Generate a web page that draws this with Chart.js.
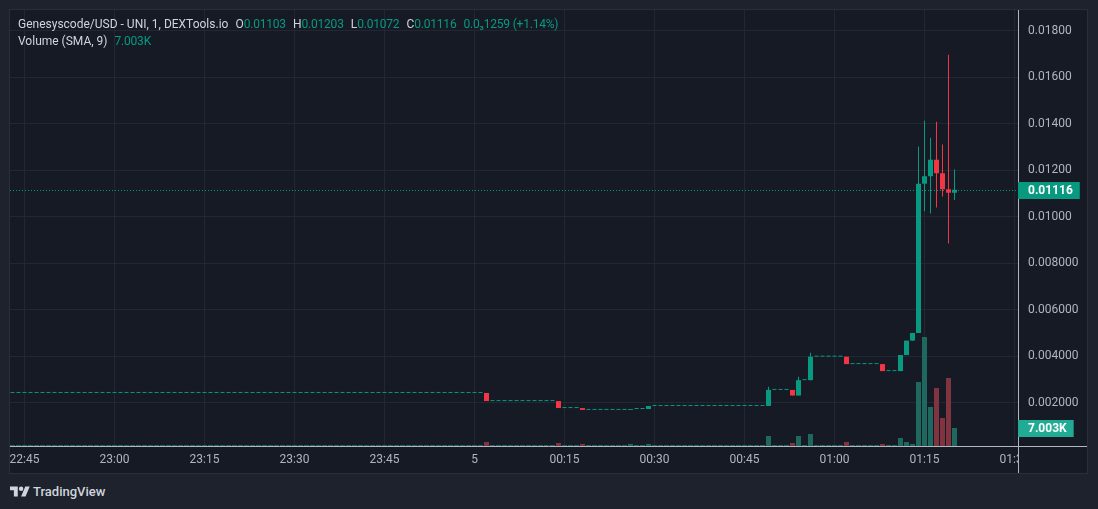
<!DOCTYPE html>
<html><head><meta charset="utf-8">
<script src="https://cdn.jsdelivr.net/npm/chart.js@4.4.1/dist/chart.umd.min.js"></script>
<style>
html,body{margin:0;padding:0;background:#1e222d;width:1098px;height:509px;overflow:hidden;font-family:Roboto,"Liberation Sans",sans-serif;}
#panel{position:absolute;left:9px;top:9px;width:1079px;height:465px;box-sizing:border-box;border:1px solid #2a2e39;background:#161a25;}
#c{position:absolute;left:0;top:0;}
#legend{position:absolute;left:8px;top:6px;font-size:12px;line-height:17px;color:#d1d4dc;white-space:nowrap;}
#legend .k{color:#d1d4dc;}
#legend .v{color:#089981;letter-spacing:-0.2px;}
#legend .g{margin-left:7px;}
#brand{position:absolute;left:10px;top:483px;height:17px;display:flex;align-items:center;color:#d1d4dc;font-size:13px;font-weight:500;}
#brand svg{margin-right:3px;}
</style>
</head><body>
<div id="panel">
  <canvas id="c" width="1077" height="463"></canvas>
  <div id="legend">
    <div><span class="k">Genesyscode/USD - UNI, 1, DEXTools.io</span><span class="g k">O</span><span class="v" id="vO"></span><span class="g k">H</span><span class="v" id="vH"></span><span class="g k">L</span><span class="v" id="vL"></span><span class="g k">C</span><span class="v" id="vC"></span><span class="g v">0.0₃1259 (+1.14%)</span></div>
    <div><span class="k">Volume (SMA, 9)</span><span class="g v" id="vV"></span></div>
  </div>
</div>
<div id="brand"><svg width="20" height="16" viewBox="0 0 36 28"><path fill="#d1d4dc" d="M14 22H7V11H0V4h14v18zM28 22h-8l7.5-18h8L28 22z"/><circle fill="#d1d4dc" cx="20" cy="8" r="4"/></svg><span>TradingView</span></div>
<script>
// ---- data ----
const times = [
 "22:43","22:44","22:45","22:46","22:47","22:48","22:49","22:50","22:51","22:52","22:53","22:54","22:55","22:56","22:57","22:58","22:59",
 "23:00","23:01","23:02","23:03","23:04","23:05","23:06","23:07","23:08","23:09","23:10","23:11","23:12","23:13","23:14",
 "23:15","23:16","23:17","23:18","23:19","23:20","23:21","23:22","23:23","23:24","23:25","23:26","23:27","23:28","23:29",
 "23:30","23:31","23:32","23:33","23:34","23:35","23:36","23:37","23:38","23:39","23:40","23:41","23:42","23:43","23:44",
 "23:45","23:46","23:47","23:48","23:49","23:50","23:51","23:52","23:53","23:54","23:55","23:56","23:57","23:58","23:59",
 "00:00","00:01","00:02","00:03","00:04","00:05","00:06","00:07","00:08","00:09","00:10","00:11","00:12","00:13","00:14",
 "00:15","00:16","00:17","00:18","00:19","00:20","00:21","00:22","00:23","00:24","00:25","00:26","00:27","00:28","00:29",
 "00:30","00:31","00:32","00:33","00:34","00:35","00:36","00:37","00:38","00:39","00:40","00:41","00:42","00:43","00:44",
 "00:45","00:46","00:47","00:48","00:49","00:50","00:51","00:52","00:53","00:54","00:55","00:56","00:57","00:58","00:59",
 "01:00","01:01","01:02","01:03","01:04","01:05","01:06","01:07","01:08","01:09","01:10","01:11","01:12","01:13","01:14",
 "01:15","01:16","01:17","01:18","01:19","01:20"
];
const opens = [
 // 22:43 - 00:01
 0.00242,0.00242,0.00242,0.00242,0.00242,0.00242,0.00242,0.00242,0.00242,0.00242,
 0.00242,0.00242,0.00242,0.00242,0.00242,0.00242,0.00242,0.00242,0.00242,0.00242,
 0.00242,0.00242,0.00242,0.00242,0.00242,0.00242,0.00242,0.00242,0.00242,0.00242,
 0.00242,0.00242,0.00242,0.00242,0.00242,0.00242,0.00242,0.00242,0.00242,0.00242,
 0.00242,0.00242,0.00242,0.00242,0.00242,0.00242,0.00242,0.00242,0.00242,0.00242,
 0.00242,0.00242,0.00242,0.00242,0.00242,0.00242,0.00242,0.00242,0.00242,0.00242,
 0.00242,0.00242,0.00242,0.00242,0.00242,0.00242,0.00242,0.00242,0.00242,0.00242,
 0.00242,0.00242,0.00242,0.00242,0.00242,0.00242,0.00242,0.00242,0.00242,
 // 00:02 - 00:13
 0.00242,0.00207,0.00207,0.00207,0.00207,0.00207,0.00207,0.00207,0.00207,0.00207,0.00207,0.00207,
 // 00:14 - 00:17
 0.00207,0.00177,0.00177,0.00177,
 // 00:18 - 00:25
 0.00177,0.00169,0.00169,0.00169,0.00169,0.00169,0.00169,0.00169,
 // 00:26 - 00:28
 0.00169,0.00173,0.00173,
 // 00:29 - 00:48
 0.00173,0.00186,0.00186,0.00186,0.00186,0.00186,0.00186,0.00186,0.00186,0.00186,
 0.00186,0.00186,0.00186,0.00186,0.00186,0.00186,0.00186,0.00186,0.00186,0.00186,
 // 00:49 - 00:52
 0.00186,0.00255,0.00255,0.00255,
 // 00:53 - 00:55
 0.00255,0.00231,0.00297,
 // 00:56 - 01:01
 0.00297,0.00398,0.00398,0.00398,0.00398,0.00398,
 // 01:02 - 01:07
 0.00398,0.00366,0.00366,0.00366,0.00366,0.00366,
 // 01:08 - 01:10
 0.00366,0.00336,0.00336,
 // 01:11 - 01:20
 0.00336,0.00405,0.00467,0.00500,0.01142,0.01174,0.01245,0.01187,0.01118,0.01103
];
const closes = [
 0.00242,0.00242,0.00242,0.00242,0.00242,0.00242,0.00242,0.00242,0.00242,0.00242,
 0.00242,0.00242,0.00242,0.00242,0.00242,0.00242,0.00242,0.00242,0.00242,0.00242,
 0.00242,0.00242,0.00242,0.00242,0.00242,0.00242,0.00242,0.00242,0.00242,0.00242,
 0.00242,0.00242,0.00242,0.00242,0.00242,0.00242,0.00242,0.00242,0.00242,0.00242,
 0.00242,0.00242,0.00242,0.00242,0.00242,0.00242,0.00242,0.00242,0.00242,0.00242,
 0.00242,0.00242,0.00242,0.00242,0.00242,0.00242,0.00242,0.00242,0.00242,0.00242,
 0.00242,0.00242,0.00242,0.00242,0.00242,0.00242,0.00242,0.00242,0.00242,0.00242,
 0.00242,0.00242,0.00242,0.00242,0.00242,0.00242,0.00242,0.00242,0.00242,
 0.00207,0.00207,0.00207,0.00207,0.00207,0.00207,0.00207,0.00207,0.00207,0.00207,0.00207,0.00207,
 0.00177,0.00177,0.00177,0.00177,
 0.00169,0.00169,0.00169,0.00169,0.00169,0.00169,0.00169,0.00169,
 0.00173,0.00173,0.00173,
 0.00186,0.00186,0.00186,0.00186,0.00186,0.00186,0.00186,0.00186,0.00186,0.00186,
 0.00186,0.00186,0.00186,0.00186,0.00186,0.00186,0.00186,0.00186,0.00186,0.00186,
 0.00255,0.00255,0.00255,0.00255,
 0.00231,0.00297,0.00297,
 0.00398,0.00398,0.00398,0.00398,0.00398,0.00398,
 0.00366,0.00366,0.00366,0.00366,0.00366,0.00366,
 0.00336,0.00336,0.00336,
 0.00405,0.00467,0.00500,0.01142,0.01174,0.01245,0.01187,0.01118,0.01103,0.01116
];
const highs = [
 0.00242,0.00242,0.00242,0.00242,0.00242,0.00242,0.00242,0.00242,0.00242,0.00242,
 0.00242,0.00242,0.00242,0.00242,0.00242,0.00242,0.00242,0.00242,0.00242,0.00242,
 0.00242,0.00242,0.00242,0.00242,0.00242,0.00242,0.00242,0.00242,0.00242,0.00242,
 0.00242,0.00242,0.00242,0.00242,0.00242,0.00242,0.00242,0.00242,0.00242,0.00242,
 0.00242,0.00242,0.00242,0.00242,0.00242,0.00242,0.00242,0.00242,0.00242,0.00242,
 0.00242,0.00242,0.00242,0.00242,0.00242,0.00242,0.00242,0.00242,0.00242,0.00242,
 0.00242,0.00242,0.00242,0.00242,0.00242,0.00242,0.00242,0.00242,0.00242,0.00242,
 0.00242,0.00242,0.00242,0.00242,0.00242,0.00242,0.00242,0.00242,0.00242,
 0.00242,0.00207,0.00207,0.00207,0.00207,0.00207,0.00207,0.00207,0.00207,0.00207,0.00207,0.00207,
 0.00207,0.00177,0.00177,0.00177,
 0.00177,0.00169,0.00169,0.00169,0.00169,0.00169,0.00169,0.00169,
 0.00173,0.00173,0.00173,
 0.00186,0.00186,0.00186,0.00186,0.00186,0.00186,0.00186,0.00186,0.00186,0.00186,
 0.00186,0.00186,0.00186,0.00186,0.00186,0.00186,0.00186,0.00186,0.00186,0.00186,
 0.00269,0.00255,0.00255,0.00255,
 0.00255,0.00312,0.00297,
 0.00415,0.00398,0.00398,0.00398,0.00398,0.00398,
 0.00398,0.00366,0.00366,0.00366,0.00366,0.00366,
 0.00366,0.00336,0.00336,
 0.00405,0.00467,0.00500,0.01302,0.01413,0.01340,0.01408,0.01310,0.01697,0.01203
];
const lows = [
 0.00242,0.00242,0.00242,0.00242,0.00242,0.00242,0.00242,0.00242,0.00242,0.00242,
 0.00242,0.00242,0.00242,0.00242,0.00242,0.00242,0.00242,0.00242,0.00242,0.00242,
 0.00242,0.00242,0.00242,0.00242,0.00242,0.00242,0.00242,0.00242,0.00242,0.00242,
 0.00242,0.00242,0.00242,0.00242,0.00242,0.00242,0.00242,0.00242,0.00242,0.00242,
 0.00242,0.00242,0.00242,0.00242,0.00242,0.00242,0.00242,0.00242,0.00242,0.00242,
 0.00242,0.00242,0.00242,0.00242,0.00242,0.00242,0.00242,0.00242,0.00242,0.00242,
 0.00242,0.00242,0.00242,0.00242,0.00242,0.00242,0.00242,0.00242,0.00242,0.00242,
 0.00242,0.00242,0.00242,0.00242,0.00242,0.00242,0.00242,0.00242,0.00242,
 0.00207,0.00207,0.00207,0.00207,0.00207,0.00207,0.00207,0.00207,0.00207,0.00207,0.00207,0.00207,
 0.00177,0.00177,0.00177,0.00177,
 0.00169,0.00169,0.00169,0.00169,0.00169,0.00169,0.00169,0.00169,
 0.00169,0.00173,0.00173,
 0.00173,0.00186,0.00186,0.00186,0.00186,0.00186,0.00186,0.00186,0.00186,0.00186,
 0.00186,0.00186,0.00186,0.00186,0.00186,0.00186,0.00186,0.00186,0.00186,0.00186,
 0.00186,0.00255,0.00255,0.00255,
 0.00231,0.00231,0.00297,
 0.00297,0.00398,0.00398,0.00398,0.00398,0.00398,
 0.00366,0.00366,0.00366,0.00366,0.00366,0.00366,
 0.00336,0.00336,0.00336,
 0.00336,0.00405,0.00467,0.00500,0.01023,0.01014,0.01040,0.01087,0.00885,0.01072
];
const volumes = [
 0,0,0,0,0,0,0,0,0,0, 0,0,0,0,0,0,0,0,0,0, 0,0,0,0,0,0,0,0,0,0, 0,0,0,0,0,0,0,0,0,0,
 0,0,0,0,0,0,0,0,0,0, 0,0,0,0,0,0,0,0,0,0, 0,0,0,0,0,0,0,0,0,0, 0,0,0,0,0,0,0,0,0,
 1550,0,0,0,0,0,0,0,0,0,0,0,
 1170,0,0,0,
 780,0,0,0,0,0,0,0,
 780,0,0,
 780,0,0,0,0,0,0,0,0,0, 0,0,0,0,0,0,0,0,0,0,
 3890,0,0,0,
 1170,3890,0,
 4670,0,0,0,0,0,
 1560,0,0,0,0,0,
 780,0,0,
 3110,1560,780,24900,42400,15170,22560,10890,26450,7003
];
const xTickTimes  = ["22:45","23:00","23:15","23:30","23:45","00:00","00:15","00:30","00:45","01:00","01:15","01:30"];
const xTickLabels = ["22:45","23:00","23:15","23:30","23:45","5","00:15","00:30","00:45","01:00","01:15","01:30"];
const yTickValues = [0.002,0.004,0.006,0.008,0.010,0.012,0.014,0.016,0.018];
const yTickLabels = ["0.002000","0.004000","0.006000","0.008000","0.01000","0.01200","0.01400","0.01600","0.01800"];

// ---- view / style ----
const xMin = -77.4167, xMax = 90.5833;
const yMin = 0.000138, yMax = 0.01889;
const vMax = 169600;
const UP = '#089981', DOWN = '#f23645', VOL_UP = '#1e6860', VOL_DOWN = '#803440';
const GRID = '#232733', TXT = '#b2b5be', AXIS = '#b2b5be', PANEL = '#161a25';

const toMin = t => { const [h, m] = t.split(':').map(Number); return h >= 12 ? h * 60 + m - 1440 : h * 60 + m; };
const xs = times.map(toMin);
const last = times.length - 1;
const isUp = i => closes[i] >= opens[i];
const idx = times.map((t, i) => i);
const moving = idx.filter(i => opens[i] !== closes[i]);
const flat = idx.filter(i => opens[i] === closes[i]);

document.getElementById('vO').textContent = opens[last].toFixed(5);
document.getElementById('vH').textContent = highs[last].toFixed(5);
document.getElementById('vL').textContent = lows[last].toFixed(5);
document.getElementById('vC').textContent = closes[last].toFixed(5);
const volText = (volumes[last] / 1000).toFixed(3) + 'K';
document.getElementById('vV').textContent = volText;

const noPad = s => { s.paddingTop = 0; s.paddingBottom = 0; s.paddingLeft = 0; s.paddingRight = 0; };

const overlay = {
  id: 'overlay',
  beforeDatasetsDraw(chart) {
    const ctx = chart.ctx, a = chart.chartArea;
    const y = Math.round(chart.scales.y.getPixelForValue(closes[last])) + 0.5;
    ctx.save();
    ctx.strokeStyle = UP; ctx.lineWidth = 1; ctx.setLineDash([1, 2]);
    ctx.beginPath(); ctx.moveTo(a.left, y); ctx.lineTo(a.right, y); ctx.stroke();
    ctx.restore();
  },
  afterDraw(chart) {
    const ctx = chart.ctx, a = chart.chartArea;
    ctx.save();
    ctx.fillStyle = PANEL;
    ctx.fillRect(a.right, a.bottom, chart.width - a.right, chart.height - a.bottom);
    ctx.strokeStyle = AXIS; ctx.lineWidth = 1;
    ctx.beginPath();
    ctx.moveTo(0, a.bottom + 0.5); ctx.lineTo(chart.width, a.bottom + 0.5);
    ctx.moveTo(a.right + 0.5, 0); ctx.lineTo(a.right + 0.5, chart.height);
    ctx.stroke();
    ctx.font = 'bold 12px Roboto, "Liberation Sans", sans-serif';
    ctx.textBaseline = 'middle'; ctx.textAlign = 'left';
    const drawTag = (yPix, text, bg) => {
      const w = ctx.measureText(text).width;
      const yy = Math.round(yPix);
      ctx.fillStyle = bg;
      ctx.fillRect(a.right, yy - 8, 10 + w + 7, 17);
      ctx.fillStyle = '#ffffff';
      ctx.fillText(text, a.right + 10, yy + 0.5);
    };
    drawTag(chart.scales.y.getPixelForValue(closes[last]), closes[last].toFixed(5), UP);
    drawTag(chart.scales.yv.getPixelForValue(volumes[last]), volText, '#22ab94');
    ctx.restore();
  }
};

const font = { family: 'Roboto, "Liberation Sans", sans-serif', size: 12 };
new Chart(document.getElementById('c'), {
  type: 'bar',
  data: {
    datasets: [
      { label: 'Volume', data: idx.map(i => ({ x: xs[i], y: volumes[i] })),
        backgroundColor: idx.map(i => isUp(i) ? VOL_UP : VOL_DOWN),
        yAxisID: 'yv', barThickness: 5, minBarLength: 1, order: 4 },
      { label: 'Wicks', data: moving.map(i => ({ x: xs[i], y: [lows[i], highs[i]] })),
        backgroundColor: moving.map(i => isUp(i) ? UP : DOWN),
        yAxisID: 'y', barThickness: 1, order: 3 },
      { label: 'Flat', data: flat.map(i => ({ x: xs[i], y: [closes[i], closes[i]] })),
        backgroundColor: UP, yAxisID: 'y', barThickness: 4, minBarLength: 1, order: 2 },
      { label: 'Bodies', data: moving.map(i => ({ x: xs[i], y: [opens[i], closes[i]] })),
        backgroundColor: moving.map(i => isUp(i) ? UP : DOWN),
        yAxisID: 'y', barThickness: 5, order: 1 }
    ]
  },
  options: {
    responsive: false, animation: false, events: [],
    layout: { padding: 0 },
    datasets: { bar: { grouped: false, inflateAmount: 0, borderWidth: 0 } },
    plugins: { legend: { display: false }, tooltip: { enabled: false } },
    scales: {
      x: {
        type: 'linear', position: 'bottom', min: xMin, max: xMax, offset: false,
        grid: { color: GRID, drawTicks: false, offset: false }, border: { display: false },
        ticks: { color: TXT, font, padding: 7, autoSkip: false, maxRotation: 0, callback: (v, i) => xTickLabels[i] },
        afterBuildTicks: s => { s.ticks = xTickTimes.map(t => ({ value: toMin(t) })); },
        afterFit: s => { s.height = 27; noPad(s); }
      },
      y: {
        type: 'linear', position: 'right', min: yMin, max: yMax,
        grid: { color: GRID, drawTicks: false }, border: { display: false },
        ticks: { color: TXT, font, padding: 10, callback: (v, i) => yTickLabels[i] },
        afterBuildTicks: s => { s.ticks = yTickValues.map(v => ({ value: v })); },
        afterFit: s => { s.width = 69; noPad(s); }
      },
      yv: { type: 'linear', display: false, min: 0, max: vMax }
    }
  },
  plugins: [overlay]
});
</script>
</body></html>
